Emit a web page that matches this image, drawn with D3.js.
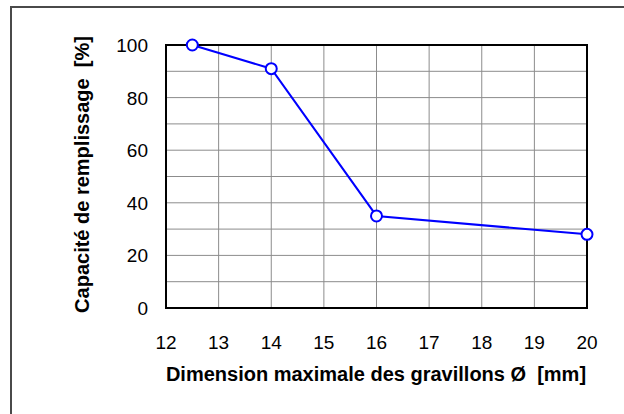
<!DOCTYPE html>
<html>
<head>
<meta charset="utf-8">
<script src="https://cdn.jsdelivr.net/npm/d3@7"></script>
<style>
  body { margin: 0; background: #fff; }
  svg { display: block; }
  text { font-family: "Liberation Sans", Arial, sans-serif; fill: #000; white-space: pre; }
</style>
</head>
<body>
<div id="chart"></div>
<script>
// data
const diameters = [12.5, 14, 16, 20]
const capacity = [100, 91, 35, 28]
const xTicks = [12, 13, 14, 15, 16, 17, 18, 19, 20]
const yTicks = [0, 20, 40, 60, 80, 100]
const yGrid = [10, 20, 30, 40, 50, 60, 70, 80, 90]
const xTitle = 'Dimension maximale des gravillons Ø  [mm]'
const yTitle = 'Capacité de remplissage  [%]'

const width = 624
const height = 414
const plot = { left: 166, top: 45, right: 587, bottom: 308 }

const svg = d3.select('#chart')
  .append('svg')
  .attr('width', width)
  .attr('height', height)

// outer frame (runs off the right/bottom edge like the picture)
svg.append('rect')
  .attr('x', 11)
  .attr('y', 7)
  .attr('width', 640)
  .attr('height', 440)
  .attr('fill', 'none')
  .attr('stroke', '#4a4a4a')
  .attr('stroke-width', 2)

const x = d3.scaleLinear().domain([12, 20]).range([plot.left, plot.right])
const y = d3.scaleLinear().domain([0, 100]).range([plot.bottom, plot.top])

// grid
svg.append('g')
  .selectAll('line')
  .data(xTicks.slice(1, -1))
  .enter()
  .append('line')
  .attr('x1', d => x(d)).attr('x2', d => x(d))
  .attr('y1', plot.top).attr('y2', plot.bottom)
  .attr('stroke', '#8c8c8c')
  .attr('stroke-width', 1)

svg.append('g')
  .selectAll('line')
  .data(yGrid)
  .enter()
  .append('line')
  .attr('x1', plot.left).attr('x2', plot.right)
  .attr('y1', d => y(d)).attr('y2', d => y(d))
  .attr('stroke', '#8c8c8c')
  .attr('stroke-width', 1)

// plot frame
svg.append('rect')
  .attr('x', plot.left)
  .attr('y', plot.top)
  .attr('width', plot.right - plot.left)
  .attr('height', plot.bottom - plot.top)
  .attr('fill', 'none')
  .attr('stroke', '#000')
  .attr('stroke-width', 2)

// tick labels
svg.append('g')
  .selectAll('text')
  .data(xTicks)
  .enter()
  .append('text')
  .attr('x', d => x(d))
  .attr('y', 349)
  .attr('text-anchor', 'middle')
  .attr('font-size', 19)
  .text(d => d)

svg.append('g')
  .selectAll('text')
  .data(yTicks)
  .enter()
  .append('text')
  .attr('x', 148)
  .attr('y', d => y(d) + 7)
  .attr('text-anchor', 'end')
  .attr('font-size', 19)
  .text(d => d)

// axis titles
svg.append('text')
  .attr('x', 376)
  .attr('y', 381)
  .attr('text-anchor', 'middle')
  .attr('font-size', 20)
  .attr('font-weight', 'bold')
  .text(xTitle)

svg.append('text')
  .attr('transform', 'translate(89,174.5) rotate(-90)')
  .attr('text-anchor', 'middle')
  .attr('font-size', 20)
  .attr('font-weight', 'bold')
  .text(yTitle)

// series
const pts = diameters.map((d, i) => [d, capacity[i]])

const line = d3.line()
  .x(d => x(d[0]))
  .y(d => y(d[1]))

svg.append('path')
  .datum(pts)
  .attr('d', line)
  .attr('fill', 'none')
  .attr('stroke', '#0000ff')
  .attr('stroke-width', 2)

svg.append('g')
  .selectAll('circle')
  .data(pts)
  .enter()
  .append('circle')
  .attr('cx', d => x(d[0]))
  .attr('cy', d => y(d[1]))
  .attr('r', 5.5)
  .attr('fill', '#fff')
  .attr('stroke', '#0000ff')
  .attr('stroke-width', 2)
</script>
</body>
</html>
